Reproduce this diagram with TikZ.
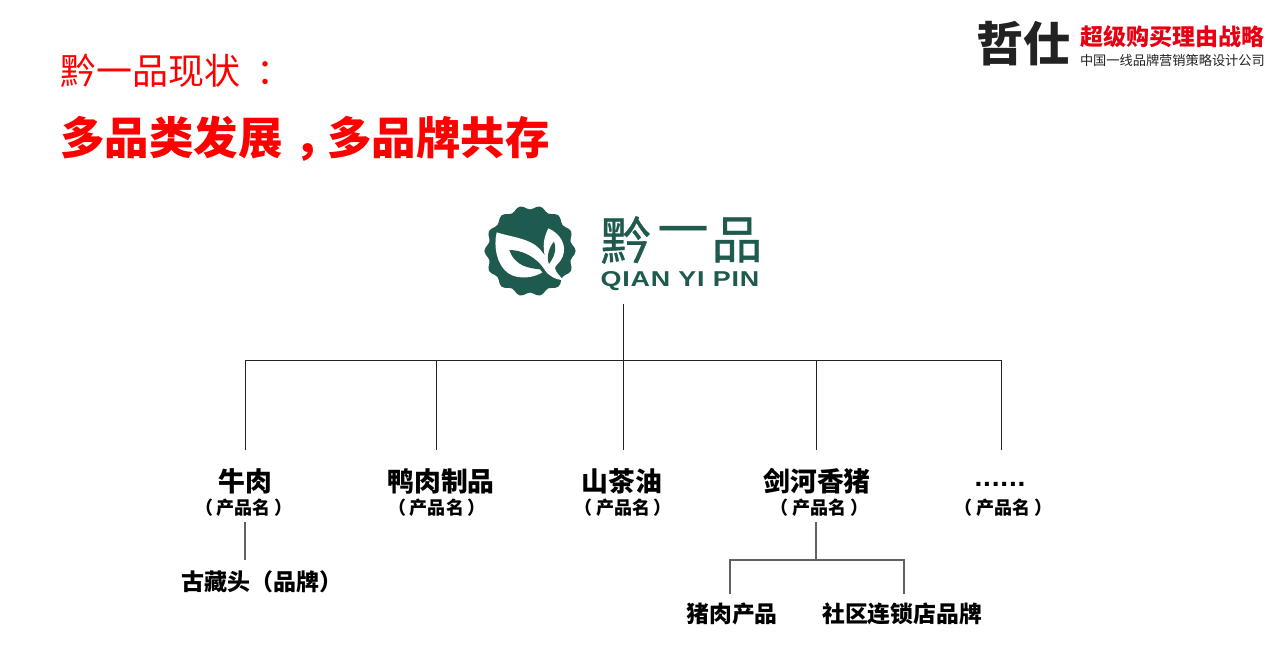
\documentclass[tikz,border=0pt]{standalone}
\usepackage{graphicx}
\usepackage{fontspec}
\setmainfont{Noto Sans CJK SC}
\newfontfamily\lat[LetterSpace=3]{Liberation Sans}
\newfontfamily\logofont[FakeBold=0.7]{Noto Sans CJK SC}
\definecolor{teal}{HTML}{1F5A4E}
\definecolor{ared}{HTML}{FF0000}
\definecolor{hred}{HTML}{E60012}
\definecolor{ink}{HTML}{222222}
\newcommand{\fz}[1]{\fontsize{#1}{#1}\selectfont}
\newcommand{\pname}{（\hspace{4pt}产品名\hspace{4pt}）}
\tikzset{
 txt/.style={inner sep=0pt,outer sep=0pt,text=black},
 wire/.style={draw=ink,line width=0.9pt},
 subwire/.style={draw=black!62,line width=1.1pt},
 cat/.style={txt,font=\fz{26.8}\bfseries},
 subt/.style={txt,font=\fz{18}\bfseries},
 leafl/.style={txt,font=\fz{22.8}\bfseries},
 logot/.style={txt,text=teal,font=\logofont\fz{51}},
}
\begin{document}
\begin{tikzpicture}[x=1pt,y=-1pt]
\useasboundingbox[fill=white] (0,0) rectangle (1280,663);
% titles
\node[txt,anchor=west,text=ared,font=\fz{36}] (t1) at (60,71) {黔一品现状\hspace{17pt}：};
\node[txt,anchor=west,text=ared,font=\fz{44.5}\bfseries] (t2) at (60,139) {多品类发展\hspace{12pt}，\hspace{-12pt}多品牌共存};
% header
\node[txt,anchor=center,text=ink,font=\fz{47}\bfseries] (h1) at (1023,44) {哲仕};
\node[txt,anchor=west,text=hred,font=\fz{23}\bfseries] (h2) at (1080,37) {超级购买理由战略};
\node[txt,anchor=west,text=ink,font=\fz{13.2}] (h3) at (1080,60) {中国一线品牌营销策略设计公司};
% logo
\begin{scope}[shift={(530,251)}]
\fill[teal] plot[smooth cycle,samples=84,domain=0:355.7] (\x:{43.6+2.0*cos(14*\x)});
\end{scope}
\begin{scope}[shift={(480,200)},x=0.3333pt,y=-0.3333pt]
\fill[white] (50,97) .. controls (95,112) and (160,115) .. (187,157)
  .. controls (215,185) and (225,225) .. (250,240)
  .. controls (225,240) and (205,225) .. (195,212)
  .. controls (165,235) and (115,240) .. (85,220)
  .. controls (50,195) and (40,140) .. (50,97) -- cycle;
\fill[white] (205,85) .. controls (240,100) and (262,135) .. (248,170)
  .. controls (240,190) and (225,195) .. (225,205)
  .. controls (228,218) and (240,228) .. (250,240)
  .. controls (220,235) and (205,205) .. (195,170)
  .. controls (188,140) and (190,115) .. (205,85) -- cycle;
\fill[teal] (88,150) .. controls (125,150) and (170,170) .. (195,212)
  .. controls (205,230) and (215,245) .. (228,258)
  .. controls (205,245) and (195,225) .. (180,208)
  .. controls (150,205) and (105,200) .. (88,150) -- cycle;
\fill[teal] (222,125) .. controls (232,150) and (220,175) .. (207,192)
  .. controls (198,170) and (208,140) .. (222,125) -- cycle;
\end{scope}
\node[logot] (l1) at (626,240) {黔};
\node[logot] (l3) at (683,237) {一};
\node[logot] (l4) at (737,240) {品};
\node[txt,anchor=center,text=teal,font=\lat\fz{21.5}\bfseries] (l2) at (680,281) {\scalebox{1.25}[1]{QIAN YI PIN}};
% labels
\node[cat] (c1) at (245,481) {牛肉};
\node[subt] (s1) at (244,508) {\pname};
\node[cat] (c2) at (441,481) {鸭肉制品};
\node[subt] (s2) at (437,508) {\pname};
\node[cat] (c3) at (622,481) {山茶油};
\node[subt] (s3) at (623,508) {\pname};
\node[cat] (c4) at (817,481) {剑河香猪};
\node[subt] (s4) at (819,508) {\pname};
\node[txt,font=\lat\fz{28}\bfseries] (c5) at (1000,484) {......};
\node[subt] (s5) at (1003,508) {\pname};
\node[leafl,anchor=west,font=\fz{23}\bfseries] (g1) at (181,582) {古藏头（品牌）};
\node[leafl] (g2) at (732,614) {猪肉产品};
\node[leafl] (g3) at (902,614) {社区连锁店品牌};
% connector points
\coordinate (root) at (623,304);
\coordinate (hub) at (623,360);
\foreach \n/\x in {1/245,2/436,3/623,4/816,5/1001}{
  \coordinate (b\n) at (\x,360);
  \coordinate (d\n) at (\x,450);
}
\coordinate (u1) at (245,522);
\coordinate (v1) at (245,560);
\coordinate (u4) at (816,522);
\coordinate (v4) at (816,560);
\coordinate (m1) at (730,560);
\coordinate (m2) at (904,560);
\coordinate (e1) at (730,594);
\coordinate (e2) at (904,594);
\draw[wire] (root) -- (hub);
\draw[wire] (b1) -- (b5);
\foreach \n in {1,...,5}{\draw[wire] (b\n) -- (d\n);}
\draw[subwire] (u1) -- (v1);
\draw[subwire] (u4) -- (v4);
\draw[subwire] (e1) -- (m1) -- (m2) -- (e2);
\end{tikzpicture}
\end{document}
